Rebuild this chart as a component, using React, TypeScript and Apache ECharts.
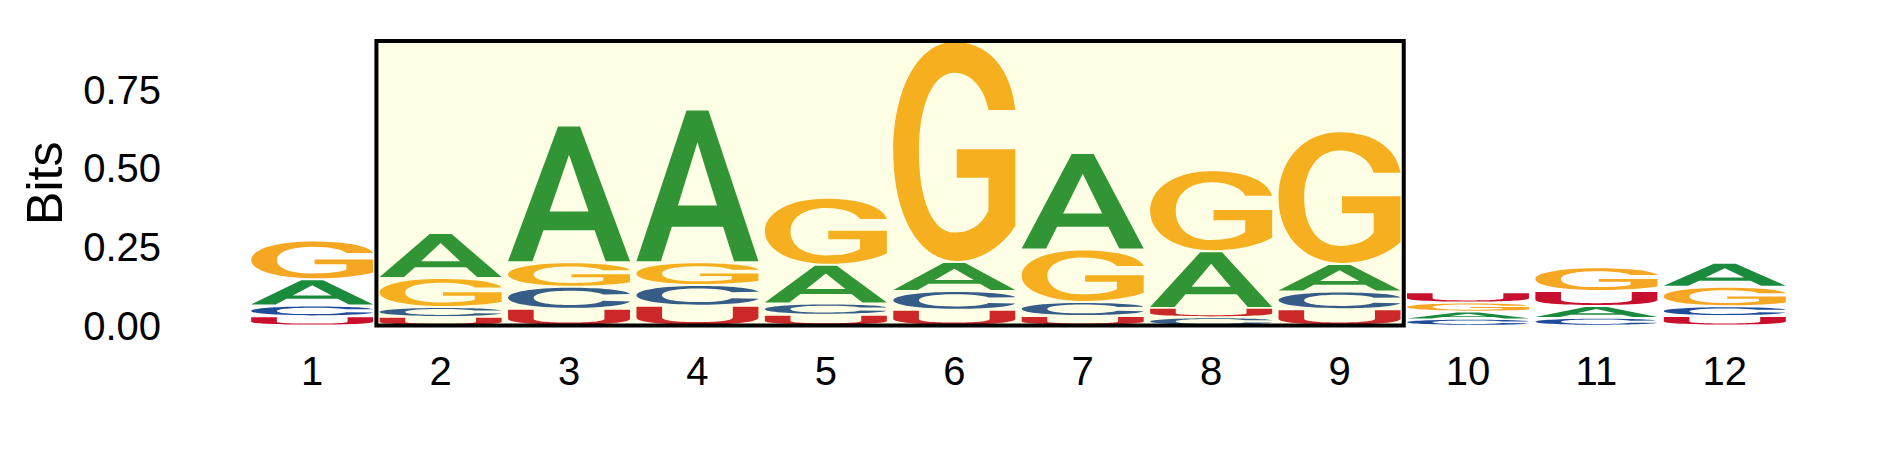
import { useEffect, useRef } from 'react';
import * as echarts from 'echarts';

// sequence logo data, bits per letter at each position
const positions = ['1', '2', '3', '4', '5', '6', '7', '8', '9', '10', '11', '12'];
const letters = ['A', 'C', 'G', 'U'];
const letterColors = ['#1a8a3c', '#1f4b98', '#f5a623', '#c8102e'];

const bitsA = [0.083, 0.143, 0.435, 0.486, 0.123, 0.092, 0.307, 0.180, 0.088, 0.024, 0.038, 0.077];
const bitsC = [0.035, 0.032, 0.070, 0.066, 0.036, 0.060, 0.045, 0.026, 0.056, 0.020, 0.024, 0.031];
const bitsG = [0.123, 0.092, 0.078, 0.072, 0.213, 0.703, 0.167, 0.258, 0.422, 0.029, 0.075, 0.062];
const bitsU = [0.029, 0.027, 0.053, 0.063, 0.034, 0.050, 0.030, 0.030, 0.052, 0.033, 0.048, 0.030];

const highlightRange = ['2', '9'];
const yMax = 0.905;

// glyph outlines in a 100x100 box, stretched to each letter's slot
const glyphs = [
    'M0 100 L41 0 L59 0 L100 100 L80 100 L71 77 L29 77 L20 100 Z M34 63 L66 63 L50 21 Z',
    'M100 31 C96 10 75 0 50 0 C20 0 0 22 0 50 C0 78 20 100 50 100 C76 100 96 88 100 68 L78 65 C74 80 63 86 50 86 C32 86 21 72 21 50 C21 28 33 14 50 14 C64 14 75 22 78 33 Z',
    'M100 31 C96 10 75 0 50 0 C20 0 0 22 0 50 C0 80 22 100 52 100 C72 100 90 93 100 84 L100 49 L52 49 L52 62 L78 62 L78 77 C72 84 62 87 50 87 C32 87 21 72 21 50 C21 28 33 14 50 14 C65 14 75 22 78 31 Z',
    'M0 0 L21 0 L21 60 C21 78 33 86 50 86 C67 86 79 78 79 60 L79 0 L100 0 L100 60 C100 86 80 100 50 100 C20 100 0 86 0 60 Z',
];

const font = 'Liberation Sans, Arial, sans-serif';

const buildStacks = () => {
    const all = [bitsA, bitsC, bitsG, bitsU];
    const items: number[][] = [];
    positions.forEach((_, i) => {
        const col = all.map((arr, li) => ({li, h: arr[i]})).sort((a, b) => a.h - b.h);
        let base = 0;
        col.forEach(({li, h}) => {
            items.push([i, base, base + h, li]);
            base += h;
        });
    });
    return items;
};

const App = () => {
    const chartRef = useRef<HTMLDivElement>(null);

    useEffect(() => {
        document.body.style.margin = '0';
        const myChart = echarts.init(chartRef.current!, null, {renderer: 'svg'});

        myChart.setOption({
            animation: false,
            grid: {left: 248, right: 100, top: 41, bottom: 146.5},
            xAxis: {
                type: 'category',
                data: positions,
                axisLine: {show: false},
                axisTick: {show: false},
                splitLine: {show: false},
                axisLabel: {color: '#000', fontSize: 40, fontFamily: font, margin: 25},
            },
            yAxis: {
                type: 'value',
                min: 0,
                max: yMax,
                interval: 0.25,
                name: 'Bits',
                nameLocation: 'middle',
                nameGap: 178,
                nameTextStyle: {color: '#000', fontSize: 50, fontFamily: font},
                axisLine: {show: false},
                axisTick: {show: false},
                splitLine: {show: false},
                axisLabel: {
                    color: '#000',
                    fontSize: 40,
                    fontFamily: font,
                    margin: 87,
                    showMaxLabel: false,
                    formatter: (v: number) => v.toFixed(2),
                },
            },
            series: [
                {
                    type: 'custom',
                    z: 2,
                    data: buildStacks(),
                    renderItem: (params: any, api: any) => {
                        const idx = api.value(0);
                        const y0 = api.value(1);
                        const y1 = api.value(2);
                        const li = api.value(3);
                        const bw = api.size([1, 0])[0] * 0.95;
                        const top = api.coord([idx, y1]);
                        const bottom = api.coord([idx, y0]);
                        const h = bottom[1] - top[1];
                        const pad = Math.min(1, h * 0.1);
                        return {
                            type: 'path',
                            shape: {
                                pathData: glyphs[li],
                                x: top[0] - bw / 2,
                                y: top[1] + pad,
                                width: bw,
                                height: Math.max(h - 2 * pad, 0.5),
                                layout: 'cover',
                            },
                            style: {fill: letterColors[li]},
                        };
                    },
                },
                {
                    type: 'custom',
                    z: 3,
                    data: [[positions.indexOf(highlightRange[0]), positions.indexOf(highlightRange[1])]],
                    renderItem: (params: any, api: any) => {
                        const bw = api.size([1, 0])[0];
                        const a = api.coord([api.value(0), 0]);
                        const b = api.coord([api.value(1), yMax]);
                        return {
                            type: 'rect',
                            shape: {x: a[0] - bw / 2, y: b[1], width: b[0] - a[0] + bw, height: a[1] - b[1]},
                            style: {fill: 'rgba(255,255,0,0.1)', stroke: '#000', lineWidth: 4},
                        };
                    },
                },
            ],
        });

        return () => {
            myChart.dispose();
        };
    }, []);

    return <div ref={chartRef} style={{width: '1889px', height: '472px'}} />;
};

export default App;
